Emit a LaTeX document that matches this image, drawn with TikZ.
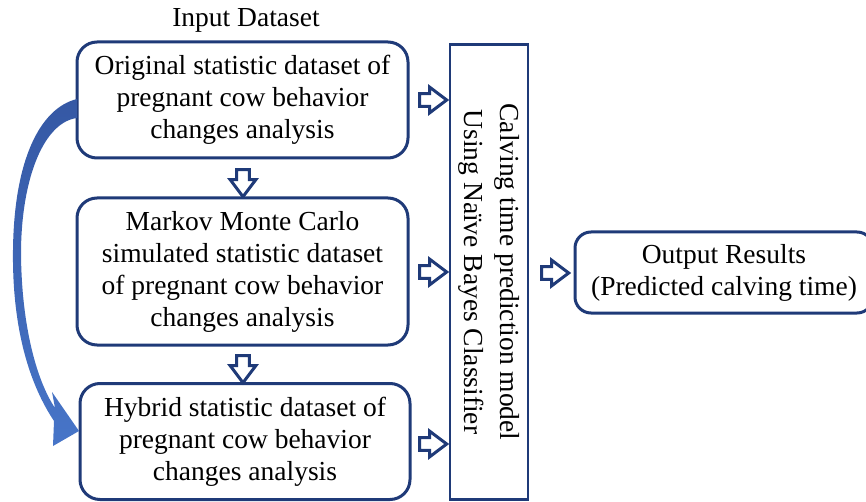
\documentclass[tikz,border=0pt]{standalone}
\usepackage{fontspec}
\setmainfont{Liberation Serif}
\usetikzlibrary{shapes.arrows,calc}
\definecolor{navy}{HTML}{1F3A78}
\definecolor{cblue}{HTML}{4775C8}
\definecolor{cdark}{HTML}{3558A4}
\begin{document}
\begin{tikzpicture}[x=1pt,y=-1pt,
  every node/.style={font=\fontsize{27.5}{32}\selectfont},
  dbox/.style={draw=navy, line width=3pt, rounded corners=20pt, align=center, inner sep=0pt, fill=white},
  barrow/.style={single arrow, draw=navy, fill=white, line width=3pt, minimum height=27pt, minimum width=23pt, single arrow head extend=6.5pt, single arrow tip angle=74, inner sep=4.8pt}
]
\useasboundingbox (0,0) rectangle (866,502);
\node (title) at (246,20) {Input Dataset};
\node[dbox, minimum width=331pt, minimum height=116pt] (b1) at (242.5,100) {Original statistic dataset of\\pregnant cow behavior\\changes analysis};
\node[dbox, minimum width=331pt, minimum height=147pt] (b2) at (242.5,271.5) {Markov Monte Carlo\\simulated statistic dataset\\of pregnant cow behavior\\changes analysis};
\node[dbox, minimum width=330pt, minimum height=116pt] (b3) at (245,441.5) {Hybrid statistic dataset of\\pregnant cow behavior\\changes analysis};
\node[draw=navy, line width=2.6pt, minimum width=78pt, minimum height=455pt, inner sep=0pt] (model) at (489,272) {};
\node[rotate=-90, align=center, font=\fontsize{27.5}{36}\selectfont] (mtext) at (model.center) {Calving time prediction model\\Using Naïve Bayes Classifier};
\node[dbox, rounded corners=16pt, minimum width=298pt, minimum height=81pt] (out) at (724,272.5) {Output Results\\(Predicted calving time)};
% block arrows
\node[barrow] (r1) at (429,100) {};
\node[barrow] (r2) at (429,272) {};
\node[barrow] (r3) at (429,444) {};
\node[barrow] (r4) at (551,273) {};
\node[barrow, rotate=-90] (d1) at (243,179) {};
\node[barrow, rotate=-90] (d2) at (243,365) {};
% curved arrow
\shade[top color=cdark, bottom color=cblue] (77,99) .. controls (40,108) and (14,160) .. (13,250)
  .. controls (12,330) and (30,385) .. (54,421)
  -- (53,446) -- (79,431) -- (52,392) -- (55,408)
  .. controls (35,378) and (21,320) .. (21,250)
  .. controls (22,175) and (45,122) .. (77,118) -- cycle;
\end{tikzpicture}
\end{document}
